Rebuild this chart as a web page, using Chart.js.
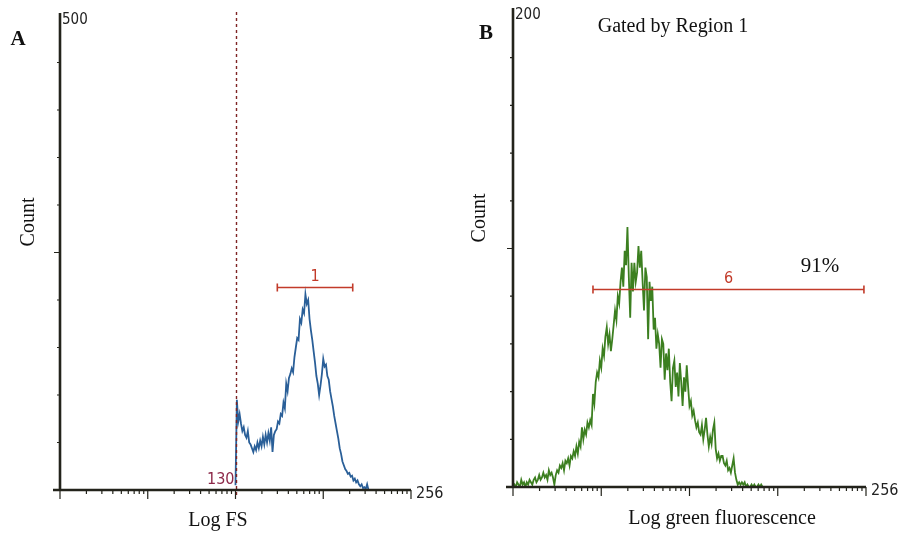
<!DOCTYPE html>
<html>
<head>
<meta charset="utf-8">
<script src="https://cdn.jsdelivr.net/npm/chart.js@4.4.1/dist/chart.umd.min.js"></script>
<style>
    html, body { margin: 0; padding: 0; background: #fff; }
    #wrap { position: relative; width: 898px; height: 534px; overflow: hidden; }
    canvas { position: absolute; top: 0; }
    #fsChart { left: 0; }
    #greenChart { left: 449px; }
</style>
</head>
<body>
<div id="wrap">
    <canvas id="fsChart" width="449" height="534"></canvas>
    <canvas id="greenChart" width="449" height="534"></canvas>
</div>
<script>
// channels of the histogram (0..256), counts
const channelMax = 256;

// panel A - Log FS, counts start at channel 128
const fsStartChannel = 128;
const fsCounts = [
    5, 95, 72, 80, 70, 62, 66, 58, 55, 62, 50, 48, 44, 40, 46, 42, 50, 44, 52, 46,
    56, 48, 58, 50, 60, 52, 66, 40, 58, 62, 64, 72, 70, 80, 78, 92, 86, 112, 104, 118,
    122, 128, 124, 140, 150, 160, 158, 180, 176, 190, 186, 206, 196, 200, 180, 168, 158, 146, 134, 120,
    112, 100, 110, 122, 138, 130, 132, 120, 116, 104, 96, 88, 78, 70, 62, 54, 44, 38, 30, 26,
    22, 20, 17, 18, 14, 15, 10, 12, 8, 10, 6, 4, 6, 2, 3, 1, 6, 0
];
const fsMaxCount = 500;
const fsGateChannel = 128;
const fsGateLabel = '130';
const region1 = { from: 158.5, to: 213.5, level: 214, label: '1' };

// panel B - Log green fluorescence, counts start at channel 0
const greenStartChannel = 0;
const greenCounts = [
    0, 1, 0, 2, 1, 0, 3, 1, 2, 0, 2, 1, 3, 2, 1, 3, 4, 2, 3, 5,
    3, 4, 6, 4, 5, 3, 7, 5, 6, 4, 1, 5, 7, 6, 9, 8, 10, 7, 11, 10,
    12, 9, 13, 12, 15, 13, 17, 14, 19, 17, 25, 20, 24, 22, 27, 25, 28, 26, 39, 35,
    44, 48, 46, 53, 50, 58, 55, 63, 67, 60, 64, 57, 62, 68, 74, 70, 80, 77, 86, 92,
    84, 99, 93, 109, 88, 71, 94, 82, 94, 86, 90, 101, 92, 99, 86, 74, 92, 88, 62, 86,
    78, 84, 66, 71, 58, 64, 60, 50, 62, 60, 45, 56, 49, 58, 44, 36, 50, 53, 42, 48,
    38, 52, 44, 34, 46, 40, 51, 42, 34, 36, 30, 32, 28, 25, 27, 23, 22, 26, 20, 24,
    29, 22, 17, 21, 18, 24, 27, 16, 12, 14, 11, 13, 13, 10, 9, 11, 7, 8, 6, 9,
    12, 6, 3, 1, 2, 1, 2, 1, 2, 0, 1, 0, 0, 1, 0, 1, 0, 0, 1, 0,
    1, 0
];
const greenMaxCount = 200;
const region6 = { from: 58, to: 254.5, level: 83, label: '6', percent: '91%' };

// log decades on the x axis: 4 decades over 256 channels
const decadeChannels = [0, 64, 128, 192, 256];
const minorSteps = [2, 3, 4, 5, 6, 7, 8, 9];

const serif = '"Liberation Serif", "Times New Roman", serif';
const narrow = '"Liberation Sans Narrow", "DejaVu Sans Condensed", "Liberation Sans", sans-serif';

function toPoints(start, counts) {
    return counts.map((c, i) => ({ x: start + i, y: c }));
}

function xTickList() {
    let list = [];
    decadeChannels.forEach((d, i) => {
        list.push({ v: d, major: true });
        if (i < decadeChannels.length - 1) {
            minorSteps.forEach(k => list.push({ v: d + 64 * Math.log10(k), major: false }));
        }
    });
    return list;
}

function text(ctx, str, x, y, font, color, align, rot) {
    ctx.save();
    ctx.font = font;
    ctx.fillStyle = color || '#1a1a1a';
    ctx.textAlign = align || 'center';
    ctx.textBaseline = 'middle';
    ctx.translate(x, y);
    if (rot) ctx.rotate(rot);
    ctx.fillText(str, 0, 0);
    ctx.restore();
}

function drawRegion(ctx, xs, ys, r) {
    const x1 = xs.getPixelForValue(r.from), x2 = xs.getPixelForValue(r.to);
    const py = Math.round(ys.getPixelForValue(r.level)) + 0.5;
    ctx.strokeStyle = '#c23b2a';
    ctx.lineWidth = 1.6;
    ctx.beginPath();
    ctx.moveTo(x1, py); ctx.lineTo(x2, py);
    ctx.moveTo(x1, py - 4); ctx.lineTo(x1, py + 4);
    ctx.moveTo(x2, py - 4); ctx.lineTo(x2, py + 4);
    ctx.stroke();
    text(ctx, r.label, (x1 + x2) / 2, py - 11, '16px ' + narrow, '#c23b2a');
}

// axes, ticks, gates and all labels of a flow cytometry panel
const flowAxes = {
    id: 'flowAxes',
    afterDatasetsDraw(chart, args, o) {
        const ctx = chart.ctx;
        const xs = chart.scales.x, ys = chart.scales.y;
        const left = chart.chartArea.left;
        const y0 = ys.getPixelForValue(0);
        const yTop = ys.getPixelForValue(o.yMax);
        const xEnd = xs.getPixelForValue(channelMax);
        ctx.save();

        if (o.gate !== undefined) {
            const gx = Math.round(xs.getPixelForValue(o.gate)) + 0.5;
            ctx.strokeStyle = '#7e2424';
            ctx.lineWidth = 1.4;
            ctx.setLineDash([3, 3]);
            ctx.beginPath();
            ctx.moveTo(gx, yTop - 3); ctx.lineTo(gx, y0 + 6);
            ctx.stroke();
            ctx.setLineDash([]);
            text(ctx, o.gateLabel, gx - 2, y0 - 10, '16px ' + narrow, '#8c2848', 'right');
        }

        ctx.strokeStyle = '#23231b';
        ctx.lineWidth = 2.6;
        ctx.beginPath();
        ctx.moveTo(left, yTop - 2); ctx.lineTo(left, y0);
        ctx.moveTo(left - 7, y0); ctx.lineTo(xEnd, y0);
        ctx.stroke();

        ctx.lineWidth = 1.2;
        ctx.beginPath();
        for (let i = 1; i < 10; i++) {
            const py = ys.getPixelForValue(o.yMax * i / 10);
            ctx.moveTo(left, py); ctx.lineTo(left - (i === 5 ? 6 : 3), py);
        }
        xTickList().forEach(t => {
            const px = xs.getPixelForValue(t.v);
            ctx.moveTo(px, y0); ctx.lineTo(px, y0 + (t.major ? 9 : 4));
        });
        ctx.stroke();

        drawRegion(ctx, xs, ys, o.region);

        text(ctx, String(o.yMax), left + 2, yTop + 5, '15px ' + narrow, '#222', 'left');
        text(ctx, String(channelMax), xEnd + 5, y0 + 4, '16px ' + narrow, '#222', 'left');
        text(ctx, o.letter, o.letterPos[0], o.letterPos[1], 'bold 21px ' + serif, '#111');
        text(ctx, 'Count', o.countPos[0], o.countPos[1], '20px ' + serif, '#111', 'center', -Math.PI / 2);
        text(ctx, o.xTitle, o.xTitlePos[0], o.xTitlePos[1], '20px ' + serif, '#111');
        if (o.title) text(ctx, o.title, o.titlePos[0], o.titlePos[1], '20px ' + serif, '#111');
        if (o.region.percent) text(ctx, o.region.percent, o.percentPos[0], o.percentPos[1], '21px ' + serif, '#111');
        ctx.restore();
    }
};

function histogramChart(id, points, color, yMax, padding, axesOpts) {
    return new Chart(document.getElementById(id), {
        type: 'line',
        data: {
            datasets: [{
                data: points,
                borderColor: color,
                borderWidth: 1.8,
                pointRadius: 0,
                tension: 0,
                fill: false
            }]
        },
        options: {
            responsive: false,
            animation: false,
            devicePixelRatio: 1,
            layout: { padding: padding },
            scales: {
                x: { type: 'linear', min: 0, max: channelMax, display: false },
                y: { min: 0, max: yMax, display: false }
            },
            plugins: {
                legend: { display: false },
                tooltip: { enabled: false },
                flowAxes: Object.assign({ yMax: yMax }, axesOpts)
            }
        },
        plugins: [flowAxes]
    });
}

histogramChart('fsChart', toPoints(fsStartChannel, fsCounts), '#2a5f98', fsMaxCount,
    { left: 60, right: 38, top: 15, bottom: 44 },
    {
        gate: fsGateChannel, gateLabel: fsGateLabel, region: region1,
        letter: 'A', letterPos: [18, 40],
        countPos: [29, 222],
        xTitle: 'Log FS', xTitlePos: [218, 521]
    });

histogramChart('greenChart', toPoints(greenStartChannel, greenCounts), '#3c7f20', greenMaxCount,
    { left: 64, right: 32, top: 10, bottom: 47 },
    {
        region: region6,
        letter: 'B', letterPos: [37, 34],
        countPos: [31, 218],
        xTitle: 'Log green fluorescence', xTitlePos: [273, 519],
        title: 'Gated by Region 1', titlePos: [224, 27],
        percentPos: [371, 266]
    });
</script>
</body>
</html>
